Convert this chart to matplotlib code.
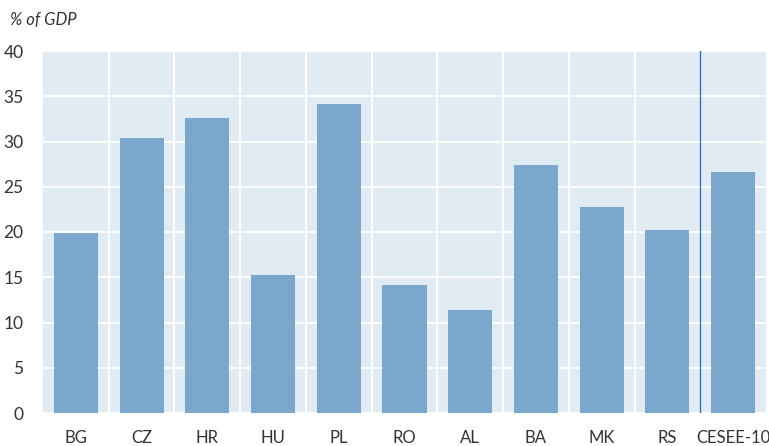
import matplotlib
matplotlib.use("Agg")
import matplotlib.pyplot as plt
import numpy as np

categories = ["BG", "CZ", "HR", "HU", "PL", "RO", "AL", "BA", "MK", "RS", "CESEE-10"]
values = [19.9, 30.4, 32.6, 15.25, 34.1, 14.1, 11.4, 27.4, 22.8, 20.2, 26.6]
yticks = [0, 5, 10, 15, 20, 25, 30, 35, 40]

plt.rcParams['font.family'] = ['Lato', 'DejaVu Sans']

fig = plt.figure(figsize=(7.69, 4.46), dpi=100)
ax = fig.add_axes([43/769, 1-413/446, (766-43)/769, (413-51)/446])
ax.set_facecolor('#e1ebf4')
x = np.arange(len(categories))
ax.bar(x, values, width=0.67, color='#7aa7cb', zorder=3)
ax.set_xlim(-0.5, len(categories)-0.5)
ax.set_ylim(0, 40)
ax.set_yticks(yticks)
ax.set_yticklabels([str(t) for t in yticks], fontsize=12.5, color='#333333')
ax.set_xticks(x)
ax.set_xticklabels(categories, fontsize=12, color='#333333')
ax.tick_params(length=0, pad=12)
ax.tick_params(axis='y', pad=14)
for t in yticks:
    ax.axhline(t, color='white', lw=1.3, zorder=1)
for b in np.arange(0.5, len(categories)-1.5, 1):
    ax.axvline(b, color='white', lw=1.5, zorder=1)
ax.axvline(len(categories)-1.5, color='#2e7ab8', lw=1.0, zorder=4)
for s in ax.spines.values():
    s.set_visible(False)
fig.text(10/769, 1-20/446, "% of GDP", fontsize=12, style='italic', color='#333333', va='center')
fig.savefig("out.png", dpi=100)
